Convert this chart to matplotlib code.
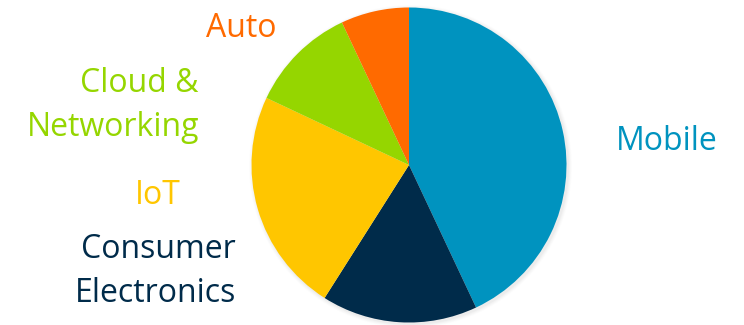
import matplotlib
matplotlib.use("Agg")
import matplotlib.pyplot as plt
from matplotlib.patches import Circle

# Market segments, clockwise from 12 o'clock
segments = ["Mobile", "Consumer\nElectronics", "IoT", "Cloud &\nNetworking", "Auto"]
shares = [43, 16, 23, 11, 7]
colors = ["#0093BF", "#002B4A", "#FFC600", "#95D600", "#FF6A00"]

plt.rcParams["font.family"] = ["Open Sans", "DejaVu Sans"]

W, H = 744, 325
fig = plt.figure(figsize=(W / 100, H / 100), dpi=100)
ax = fig.add_axes([0, 0, 1, 1])

cx, cy, r = 409, H - 165, 157.5

# soft drop shadow around the disc
for i, a in enumerate([0.05, 0.04, 0.03, 0.02]):
    ax.add_patch(Circle((cx + 1.5, cy - 1.5), r + 1 + i, color="#808080",
                        alpha=a, lw=0, zorder=0))

ax.pie(shares, colors=colors, startangle=90, counterclock=False,
       center=(cx, cy), radius=r, frame=True,
       wedgeprops=dict(linewidth=0, antialiased=True))
ax.set_xlim(0, W)
ax.set_ylim(0, H)
ax.set_aspect("equal")
ax.axis("off")

fs = 23
line_gap = 44.5
# anchor x, first-line baseline (from top), horizontal alignment
label_pos = {
    "Mobile": (667, 150, "center"),
    "Consumer\nElectronics": (236, 258, "right"),
    "IoT": (157.5, 204, "center"),
    "Cloud &\nNetworking": (199, 92, "right"),
    "Auto": (241, 37, "center"),
}
for name, col in zip(segments, colors):
    x, base, ha = label_pos[name]
    for k, line in enumerate(name.split("\n")):
        ax.text(x, H - (base + k * line_gap), line, color=col, fontsize=fs,
                ha=ha, va="baseline")

fig.savefig("out.png", dpi=100, facecolor="white")
